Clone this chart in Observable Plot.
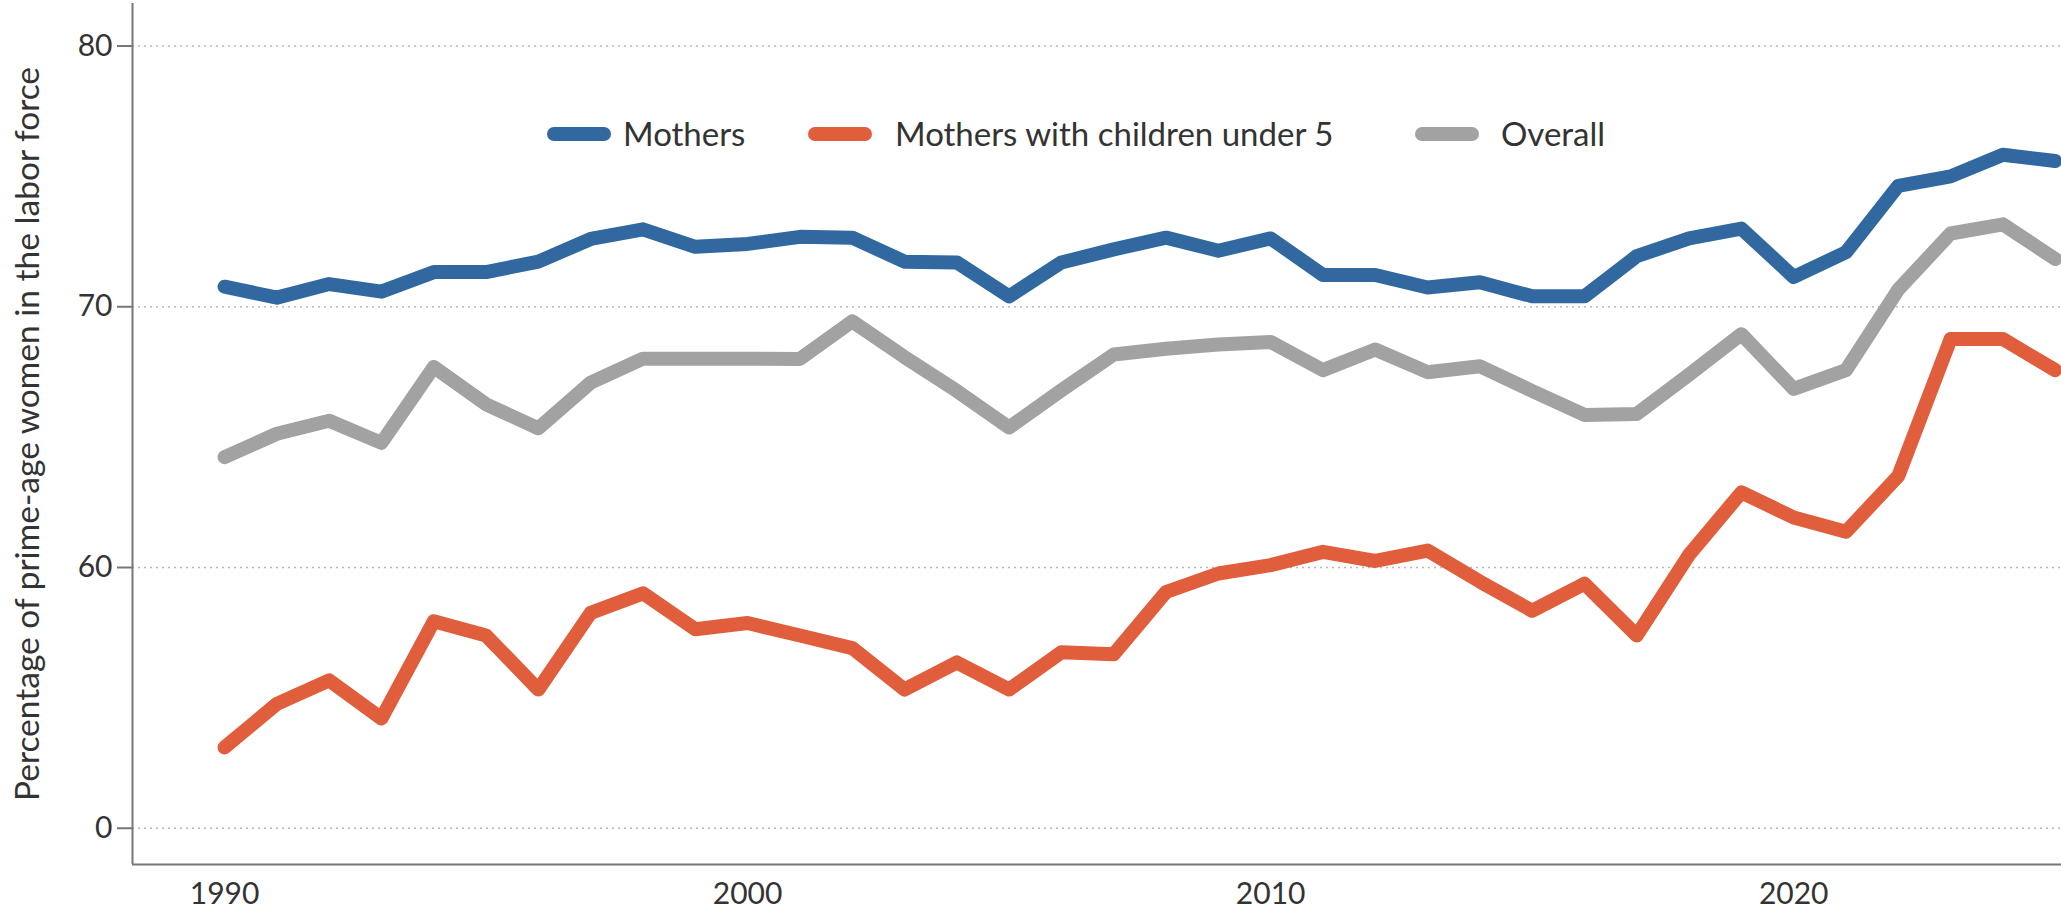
<!DOCTYPE html>
<html>
<head>
<meta charset="utf-8">
<script src="https://cdn.jsdelivr.net/npm/d3@7"></script>
<script src="https://cdn.jsdelivr.net/npm/@observablehq/plot@0.6"></script>
<style>
  html, body { margin: 0; padding: 0; background: #fff; overflow: hidden; }
  #wrap { position: relative; width: 2061px; height: 914px; font-family: Lato, sans-serif; }
  #wrap svg { display: block; }
  .legend { position: absolute; top: 0; left: 0; width: 100%; height: 0; pointer-events: none; }
  .sw { position: absolute; top: 127px; width: 64px; height: 14px; border-radius: 7px; }
  .lab { position: absolute; top: 113px; line-height: 40px; font-size: 33px; color: #333; white-space: nowrap; }
</style>
</head>
<body>
<div id="wrap"></div>
<script>
const years = [1990,1991,1992,1993,1994,1995,1996,1997,1998,1999,
               2000,2001,2002,2003,2004,2005,2006,2007,2008,2009,
               2010,2011,2012,2013,2014,2015,2016,2017,2018,2019,
               2020,2021,2022,2023,2024,2025];
const mothers = [70.77,70.35,70.87,70.58,71.33,71.33,71.73,72.60,72.97,72.30,
                 72.41,72.68,72.65,71.73,71.70,70.40,71.70,72.20,72.65,72.15,
                 72.62,71.22,71.22,70.74,70.94,70.40,70.40,71.94,72.62,73.00,
                 71.14,72.09,74.64,75.00,75.83,75.59];
const under5 = [53.10,54.77,55.67,54.21,57.94,57.39,55.32,58.26,59.01,57.63,
                57.87,57.39,56.91,55.32,56.36,55.32,56.75,56.67,59.06,59.77,
                60.09,60.60,60.25,60.65,59.46,58.34,59.38,57.39,60.49,62.88,
                61.92,61.37,63.51,68.76,68.76,67.57];
const overall = [64.23,65.13,65.63,64.78,67.69,66.26,65.34,67.09,68.01,68.01,
                 68.01,68.00,69.44,68.07,66.77,65.37,66.80,68.17,68.39,68.55,
                 68.65,67.57,68.36,67.49,67.72,66.77,65.85,65.89,67.40,68.95,
                 66.85,67.57,70.66,72.81,73.16,71.83];
const seriesNames = ["Mothers", "Mothers with children under 5", "Overall"];
const seriesColors = ["#30689f", "#e05e3c", "#a2a2a2"];
const yTicks = [50, 60, 70, 80];
const yTickLabels = ["0", "60", "70", "80"];
const xTicks = [1990, 2000, 2010, 2020];
const xDomain = [1988.24, 2025.12];
const yDomain = [48.61, 81.63];

const seriesValues = [mothers, under5, overall];
const rows = [];
seriesNames.forEach((s, i) => years.forEach((yr, j) => rows.push({series: s, year: yr, value: seriesValues[i][j]})));

const chart = Plot.plot({
  width: 2061,
  height: 914,
  marginLeft: 132,
  marginRight: 0,
  marginTop: 3,
  marginBottom: 50,
  style: {fontFamily: "Lato, sans-serif", fontSize: "30px", color: "#333", background: "#fff"},
  x: {domain: xDomain},
  y: {domain: yDomain},
  color: {domain: seriesNames, range: seriesColors},
  marks: [
    Plot.gridY(yTicks, {stroke: "#9a9a9a", strokeOpacity: 0.7, strokeWidth: 1.5, strokeDasharray: "2,4"}),
    Plot.axisY({ticks: yTicks, tickSize: 15, tickPadding: 5, fontSize: 30,
      tickFormat: d => yTickLabels[yTicks.indexOf(d)], label: null, stroke: "#777", strokeWidth: 2, fill: "#333"}),
    Plot.axisY({ticks: [], tickSize: 0, fontSize: 33.5,
      label: "Percentage of prime-age women in the labor force", labelAnchor: "center", labelArrow: false, labelOffset: 117, fill: "#333"}),
    Plot.axisX({ticks: xTicks, tickSize: 0, tickPadding: 18, fontSize: 30, tickFormat: d => String(d), label: null, fill: "#333"}),
    Plot.ruleX([xDomain[0]], {stroke: "#777", strokeWidth: 2}),
    Plot.ruleY([yDomain[0]], {stroke: "#777", strokeWidth: 2}),
    Plot.line(rows, {x: "year", y: "value", z: "series", stroke: "series", strokeWidth: 14,
      strokeLinejoin: "round", strokeLinecap: "round"})
  ]
});
const wrap = document.getElementById("wrap");
wrap.appendChild(chart);

const legend = document.createElement("div");
legend.className = "legend";
const swLefts = [547, 808, 1415];
const labLefts = [623, 895, 1501];
seriesNames.forEach((s, i) => {
  const sw = document.createElement("div");
  sw.className = "sw";
  sw.style.left = swLefts[i] + "px";
  sw.style.background = seriesColors[i];
  const lab = document.createElement("div");
  lab.className = "lab";
  lab.style.left = labLefts[i] + "px";
  lab.textContent = s;
  legend.appendChild(sw); legend.appendChild(lab);
});
wrap.appendChild(legend);
</script>
</body>
</html>
